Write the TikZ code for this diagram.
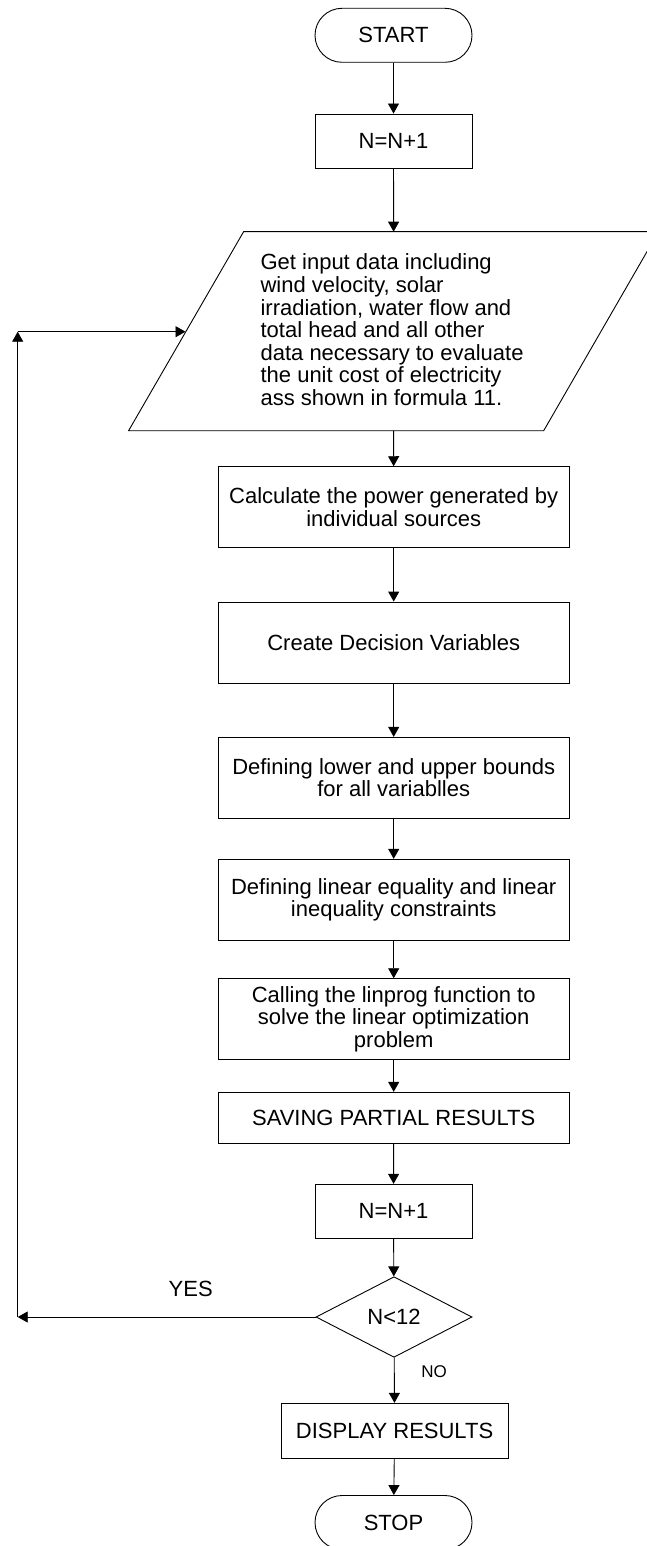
\documentclass[tikz,border=0pt]{standalone}
\usepackage{fontspec}
\setmainfont{Liberation Sans}
\usetikzlibrary{arrows.meta,shapes.geometric,shapes.misc}
\begin{document}
\begin{tikzpicture}[x=1pt,y=-1pt,
  every node/.style={font=\fontsize{22}{22.6}\selectfont},
  lw/.style={line width=0.9pt},
  box/.style={draw, lw, rectangle, inner sep=0pt, align=center, minimum width=350.7pt},
  term/.style={draw, lw, rounded rectangle, inner sep=0pt, minimum width=157pt, minimum height=54pt},
  dec/.style={draw, lw, diamond, inner sep=0pt, minimum width=156pt, minimum height=80.6pt},
  arr/.style={lw, -{Triangle[width=11pt,length=10pt]}}]
\useasboundingbox (0,0) rectangle (647,1546);

\node[term] (start) at (393.5,35.3) {START};
\node[box, minimum width=157pt, minimum height=54pt] (n1) at (393.5,141) {N=N+1};

% input parallelogram
\coordinate (pTL) at (243.6,231.7);
\coordinate (pTR) at (658.5,231.7);
\coordinate (pBR) at (543.7,430.7);
\coordinate (pBL) at (128.6,430.7);
\draw[lw] (pTL) -- (pTR) -- (pBR) -- (pBL) -- cycle;
\coordinate (inTop) at (393.6,231.7);
\coordinate (inBot) at (393.6,430.7);
\coordinate (inLeft) at (185.5,331.7);
\node[anchor=west, align=left, inner sep=0pt] (intext) at (260.4,329.8)
  {Get input data including\\
   wind velocity, solar\\
   irradiation, water flow and\\
   total head and all other\\
   data necessary to evaluate\\
   the unit cost of electricity\\
   ass shown in formula 11.};

\node[box, minimum height=81pt] (calc) at (393.7,507.2)
  {Calculate the power generated by\\individual sources};
\node[box, minimum height=81.3pt] (create) at (393.7,642.65)
  {Create Decision Variables};
\node[box, minimum height=81pt] (bounds) at (393.7,777.8)
  {Defining lower and upper bounds\\for all variablles};
\node[box, minimum height=81pt] (lin) at (393.7,899.8)
  {Defining linear equality and linear\\inequality constraints};
\node[box, minimum height=80.6pt] (call) at (393.7,1019)
  {Calling the linprog function to\\solve the linear optimization\\problem};
\node[box, minimum height=51pt] (save) at (393.7,1117.8)
  {SAVING PARTIAL RESULTS};
\node[box, minimum width=157pt, minimum height=54pt] (n2) at (393.5,1211.3) {N=N+1};
\node[dec] (dec) at (394,1317) {N<12};
\node[box, minimum width=227.3pt, minimum height=55pt] (disp) at (394.6,1430.8)
  {DISPLAY RESULTS};
\node[term] (stop) at (393.5,1522.5) {STOP};

\node (yes) at (190.7,1289.3) {YES};
\node[font=\fontsize{17}{20}\selectfont] (no) at (434,1371.7) {NO};

% connectors
\draw[arr] (start) -- (n1);
\draw[arr] (n1) -- (inTop);
\draw[arr] (inBot) -- (calc);
\draw[arr] (calc) -- (create);
\draw[arr] (create) -- (bounds);
\draw[arr] (bounds) -- (lin);
\draw[arr] (lin) -- (call);
\draw[arr] (call) -- (save);
\draw[arr] (save) -- (n2);
\draw[arr] (n2) -- (dec);
\draw[arr] (dec) -- (disp);
\draw[arr] (disp) -- (stop);

% loop back
\coordinate (c1) at (17.7,1317);
\coordinate (c2) at (17.7,331.7);
\draw[arr] (dec.west) -- (c1);
\draw[arr] (c1) -- (c2);
\draw[arr] (c2) -- (inLeft);
\end{tikzpicture}
\end{document}
